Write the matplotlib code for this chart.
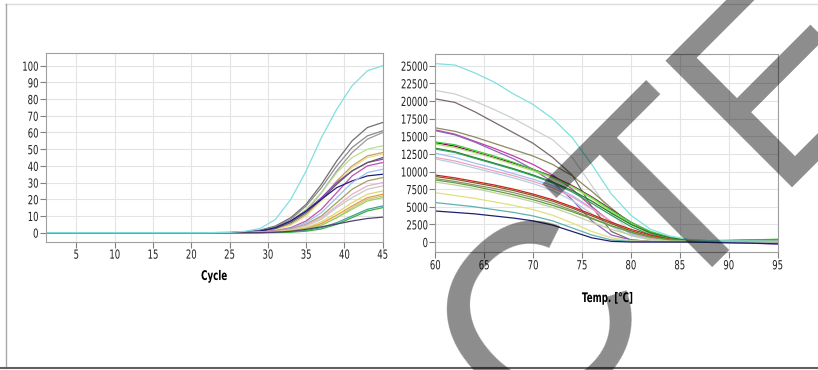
import matplotlib
matplotlib.use("Agg")
from matplotlib import pyplot as plt
from matplotlib.lines import Line2D
from matplotlib.patheffects import AbstractPathEffect
from matplotlib.transforms import Affine2D

# amplification curves (left), sampled at these cycles
cycles = [1, 22, 25, 27, 29, 31, 33, 35, 37, 39, 41, 43, 45]
amp_cyan = [0, 0, 0.2, 0.8, 2.5, 8, 20, 37, 57, 74, 88, 97, 100]
amp_gray1 = [0, 0, 0.1, 0.5, 1.5, 4, 9, 17, 29, 43, 55, 63, 66]
amp_gray2 = [0, 0, 0.1, 0.4, 1.2, 3.5, 8, 16, 27, 40, 51, 58, 61]
amp_gray3 = [0, 0, 0, 0.3, 1, 3, 6.5, 13, 24, 37, 48, 56, 60]
amp_lgreen = [0, 0, 0, 0.3, 1, 3, 7, 14, 24, 36, 45, 50, 52]
amp_tan = [0, 0, 0, 0.2, 0.7, 2, 5, 11, 20, 31, 40, 46, 48]
amp_yellow = [0, 0, 0, 0.2, 0.6, 1.8, 4.5, 10, 19, 30, 39, 45, 47]
amp_purple = [0, 0, 0, 0.3, 1, 3, 7, 13, 21, 30, 37, 42, 44]
amp_dgray = [0, 0, 0, 0.2, 0.8, 2.5, 6, 12, 20, 29, 37, 42, 45]
amp_magenta = [0, 0, 0, 0.1, 0.4, 1.2, 3, 7, 14, 24, 34, 40, 42]
amp_navy = [0, 0, 0, 0.3, 1, 3, 7, 13, 20, 27, 31, 34, 35]
amp_lblue = [0, 0, 0, 0.1, 0.3, 1, 2.5, 6, 12, 21, 30, 36, 38]
amp_olive = [0, 0, 0, 0.1, 0.3, 0.9, 2.2, 5, 10, 18, 26, 31, 33]
amp_pink = [0, 0, 0, 0.1, 0.2, 0.7, 1.8, 4.5, 9, 16, 23, 28, 30]
amp_lgray = [0, 0, 0, 0, 0.2, 0.6, 1.5, 4, 8, 15, 21, 26, 28]
amp_yellow2 = [0, 0, 0, 0, 0.2, 0.5, 1.2, 3, 6.5, 12, 18, 23, 25]
amp_orange = [0, 0, 0, 0, 0.1, 0.4, 1, 2.5, 5.5, 10.5, 16, 21, 23]
amp_tan2 = [0, 0, 0, 0, 0.1, 0.3, 0.8, 2, 4.5, 9, 15, 20, 22]
amp_lime = [0, 0, 0, 0, 0.1, 0.3, 0.8, 2, 4.5, 9, 14, 19, 21]
amp_teal = [0, 0, 0, 0, 0.1, 0.2, 0.5, 1.3, 3, 6, 10, 14, 16]
amp_green = [0, 0, 0, 0, 0, 0.1, 0.3, 0.9, 2.2, 5, 9, 13, 15]
amp_dpurple = [0, 0, 0, 0, 0, 0.2, 0.8, 2, 3.5, 5.2, 7, 8.5, 9.3]

amp_series = [
    (amp_gray1, "#707070"), (amp_gray2, "#8a8a8a"), (amp_gray3, "#9a9a9a"),
    (amp_lgreen, "#b8e090"), (amp_tan, "#c8a060"), (amp_yellow, "#e8e090"),
    (amp_purple, "#9040c0"), (amp_dgray, "#606060"), (amp_magenta, "#c050b0"),
    (amp_navy, "#202080"), (amp_lblue, "#a0c0e8"), (amp_olive, "#a0a060"),
    (amp_pink, "#e8b0c8"), (amp_lgray, "#c8c8c8"), (amp_yellow2, "#e0d870"),
    (amp_orange, "#e0a040"), (amp_tan2, "#d0c090"), (amp_lime, "#a0d060"),
    (amp_teal, "#40a0a0"), (amp_green, "#40b040"), (amp_dpurple, "#504070"),
    (amp_cyan, "#80e0e0"),
]

# melt curves (right), sampled at these temperatures
temps = [60, 62, 64, 66, 68, 70, 72, 74, 76, 78, 80, 82, 84, 86, 88, 90, 92, 95]
melt_cyan = [25300, 25100, 24000, 22700, 21000, 19500, 17500, 14800, 11000, 6800, 3800, 1800, 850, 350, 200, 150, 150, 120]
melt_lgray = [21500, 21000, 20000, 18800, 17500, 16000, 14500, 12000, 8000, 4000, 1500, 500, 200, 100, 100, 100, 100, 80]
melt_dgray = [20300, 19800, 18500, 17000, 15500, 14000, 12000, 9500, 5000, 1500, 300, 100, 80, 80, 80, 80, 80, 50]
melt_olive = [16200, 15700, 14900, 14000, 13100, 12200, 11000, 9400, 7200, 4800, 2600, 1200, 450, 150, 100, 100, 100, 80]
melt_magenta = [15900, 15300, 14300, 13300, 12200, 11000, 9500, 7500, 5000, 2800, 1200, 400, 150, 100, 100, 100, 80, 50]
melt_purple = [15800, 15200, 14200, 13000, 11800, 10300, 8500, 6000, 3000, 1000, 300, 100, 50, 0, -50, -100, -150, -300]
melt_maroon = [14100, 13600, 12800, 12000, 11200, 10300, 9300, 8000, 6400, 4600, 2800, 1400, 600, 200, 150, 150, 150, 150]
melt_green = [14200, 13800, 13000, 12200, 11300, 10300, 9200, 7900, 6300, 4500, 2800, 1500, 700, 250, 200, 250, 300, 400]
melt_lime = [13900, 13400, 12700, 11900, 11000, 10100, 9100, 7800, 6200, 4300, 2600, 1300, 550, 200, 200, 250, 300, 350]
melt_dgreen = [13300, 12800, 12000, 11200, 10400, 9500, 8500, 7300, 5800, 4100, 2500, 1300, 600, 200, 150, 200, 250, 300]
melt_teal2 = [13200, 12700, 11900, 11100, 10300, 9400, 8400, 7100, 5500, 3800, 2200, 1000, 400, 150, 150, 200, 200, 250]
melt_lblue = [12600, 12000, 11200, 10500, 9700, 8900, 8000, 6600, 4800, 2800, 1200, 400, 150, 100, 100, 100, 100, 100]
melt_pink = [12000, 11500, 10800, 10100, 9400, 8600, 7700, 6400, 4700, 2900, 1400, 500, 200, 100, 100, 100, 100, 100]
melt_lblue2 = [11800, 11200, 10500, 9800, 9100, 8300, 7300, 5900, 4000, 2200, 900, 300, 100, 100, 100, 100, 100, 100]
melt_red = [9500, 9100, 8600, 8100, 7500, 6800, 6000, 5000, 3900, 2800, 1800, 1000, 400, 150, 100, 100, 100, 100]
melt_brown = [9300, 8900, 8400, 7900, 7300, 6600, 5800, 4800, 3700, 2600, 1600, 800, 300, 100, 100, 100, 100, 100]
melt_gray = [9000, 8600, 8100, 7600, 7000, 6300, 5500, 4500, 3400, 2300, 1400, 700, 300, 100, 100, 100, 100, 100]
melt_green2 = [8800, 8400, 7900, 7300, 6700, 6000, 5200, 4300, 3300, 2300, 1400, 700, 300, 150, 150, 200, 250, 300]
melt_light = [8500, 8100, 7600, 7000, 6400, 5700, 4900, 3900, 2800, 1800, 1000, 400, 150, 100, 100, 100, 100, 100]
melt_yellow = [7000, 6600, 6200, 5700, 5200, 4600, 3800, 2700, 1500, 600, 200, 100, 50, 50, 50, 50, 50, 50]
melt_teal = [5600, 5300, 5000, 4600, 4200, 3700, 3000, 2000, 1000, 300, 100, 50, 50, 50, 50, 50, 50, 50]
melt_navy = [4400, 4200, 4000, 3700, 3400, 3000, 2400, 1500, 600, 100, 0, 0, 0, 0, -50, -100, -150, -250]

melt_series = [
    (melt_lgray, "#cfcfcf"), (melt_dgray, "#7a6a6a"), (melt_olive, "#8a8a60"),
    (melt_magenta, "#c040a0"), (melt_purple, "#9060c0"), (melt_maroon, "#800040"),
    (melt_green, "#40d040"), (melt_lime, "#a0e060"), (melt_dgreen, "#208020"),
    (melt_teal2, "#30a060"), (melt_lblue, "#a0c0f0"), (melt_pink, "#f0a0c0"),
    (melt_lblue2, "#b0d0e0"), (melt_red, "#d02020"), (melt_brown, "#806020"),
    (melt_gray, "#909070"), (melt_green2, "#60a040"), (melt_light, "#c0d0a0"),
    (melt_yellow, "#e0e080"), (melt_teal, "#60b0b0"), (melt_navy, "#202070"),
    (melt_cyan, "#80e0e0"),
]


class Squeeze(AbstractPathEffect):
    """narrow the glyphs horizontally, the original uses a condensed font"""

    def __init__(self, sx=0.68, anchor="center"):
        super().__init__()
        self.sx = sx
        self.anchor = anchor

    def draw_path(self, renderer, gc, tpath, affine, rgbFace=None):
        ext = tpath.get_extents()
        x0 = ext.x1 if self.anchor == "right" else (ext.x0 + ext.x1) / 2
        squeeze = Affine2D().translate(-x0, 0).scale(self.sx, 1).translate(x0, 0)
        renderer.draw_path(gc, tpath, squeeze + affine, rgbFace)


plt.rcParams['font.family'] = ['DejaVu Sans']
plt.rcParams['font.size'] = 9

fig = plt.figure(figsize=(8.18, 3.70), dpi=100)
ax1 = fig.add_axes([0.0559, 0.3468, 0.412, 0.509])
ax2 = fig.add_axes([0.5321, 0.318, 0.4186, 0.536])

for values, color in amp_series:
    ax1.plot(cycles, values, color=color, lw=0.9)
ax1.set_xlim(1, 45)
ax1.set_ylim(-5.4, 107.4)
ax1.set_xticks(range(5, 46, 5))
ax1.set_yticks(range(0, 101, 10))
ax1.set_xlabel("Cycle", fontweight="bold", fontsize=9.5)
ax1.xaxis.set_label_coords(0.5, -0.15)

for values, color in melt_series:
    ax2.plot(temps, values, color=color, lw=0.9)
ax2.set_xlim(60, 95)
ax2.set_ylim(-1460, 26660)
ax2.set_xticks(range(60, 96, 5))
ax2.set_yticks(range(0, 25001, 2500))
ax2.set_xlabel("Temp. [°C]", fontweight="bold", fontsize=9.5)
ax2.xaxis.set_label_coords(0.504, -0.2)

for ax in (ax1, ax2):
    ax.grid(True, color="#e4e4e4", lw=0.8)
    ax.set_axisbelow(True)
    for s in ax.spines.values():
        s.set_color("#a0a0a0")
    ax.tick_params(direction="out", length=4, color="#808080",
                   labelcolor="#202020", pad=1)
    for lbl in ax.get_xticklabels():
        lbl.set_path_effects([Squeeze(0.68)])
    for lbl in ax.get_yticklabels():
        lbl.set_path_effects([Squeeze(0.68, "right")])
    ax.xaxis.label.set_path_effects([Squeeze(0.66)])

# outer frame
fig.add_artist(Line2D([5 / 818, 1], [366 / 370, 366 / 370], color="#dddddd", lw=1))
fig.add_artist(Line2D([5.5 / 818, 5.5 / 818], [2 / 370, 366 / 370], color="#a8a8a8", lw=1))
fig.add_artist(Line2D([0, 1], [2.5 / 370, 2.5 / 370], color="#606060", lw=1.5))

# retraction watermark
fig.text(0.5697, -0.3325, "RETRACTED", rotation=45, rotation_mode="anchor",
         ha="center", va="baseline", fontsize=187, color="black", alpha=0.45,
         family="Liberation Sans", zorder=10)

fig.savefig("out.png", dpi=100)
